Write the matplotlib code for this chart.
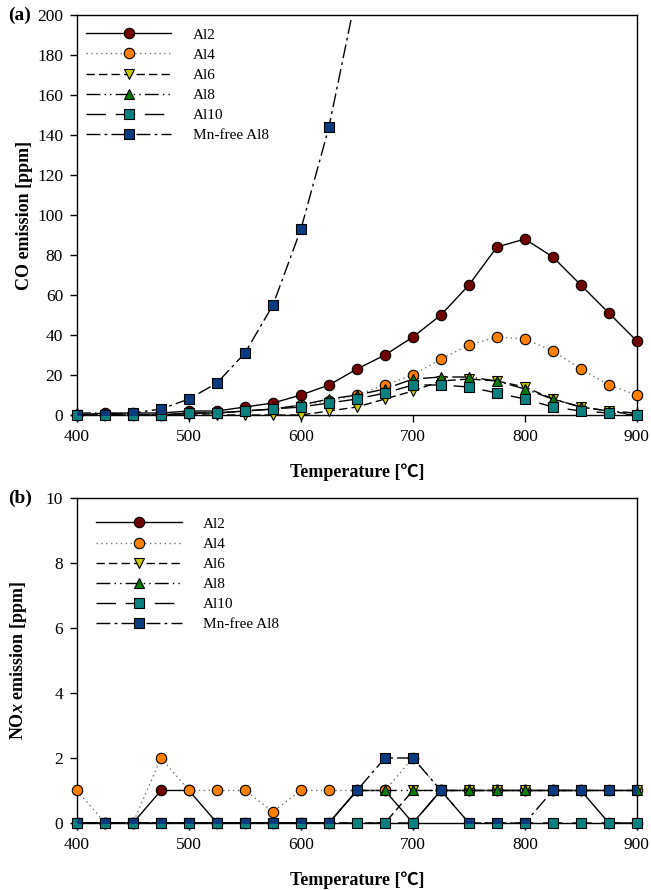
import matplotlib
matplotlib.use('Agg')
import matplotlib.pyplot as plt

plt.rcParams['font.family'] = ['Liberation Serif', 'Noto Sans CJK JP', 'DejaVu Sans']
plt.rcParams['mathtext.fontset'] = 'custom'
plt.rcParams['mathtext.rm'] = 'Liberation Serif'
plt.rcParams['mathtext.bf'] = 'Liberation Serif:bold'
plt.rcParams['mathtext.it'] = 'Liberation Serif:italic'
plt.rcParams['mathtext.bfit'] = 'Liberation Serif:italic:bold'

# temperatures (C)
temp = [400, 425, 450, 475, 500, 525, 550, 575, 600, 625, 650,
        675, 700, 725, 750, 775, 800, 825, 850, 875, 900]
temp_mnfree = temp[:11]

labels = ['Al2', 'Al4', 'Al6', 'Al8', 'Al10', 'Mn-free Al8']

# CO emission [ppm]
co_al2 = [0, 1, 1, 1, 2, 2, 4, 6, 10, 15, 23, 30, 39, 50, 65, 84, 88, 79, 65, 51, 37]
co_al4 = [0, 0, 0, 0, 1, 1, 2, 3, 5, 7, 10, 15, 20, 28, 35, 39, 38, 32, 23, 15, 10]
co_al6 = [0, 0, 0, 0, 0, 0, 0, 0, 0, 2, 4, 8, 12, 17, 18, 17, 14, 8, 4, 2, 0]
co_al8 = [1, 1, 0, 0, 1, 1, 2, 3, 5, 8, 10, 13, 18, 19, 19, 17, 13, 8, 4, 2, 1]
co_al10 = [0, 0, 0, 0, 1, 1, 2, 3, 4, 6, 8, 11, 15, 15, 14, 11, 8, 4, 2, 1, 0]
co_mnfree = [0, 0, 1, 3, 8, 16, 31, 55, 93, 144, 212]

# NOx emission [ppm]
nox_al2 = [0, 0, 0, 1, 1, 0, 0, 0, 0, 0, 1, 1, 0, 1, 1, 1, 1, 1, 1, 0, 0]
nox_al4 = [1, 0, 0, 2, 1, 1, 1, 0.35, 1, 1, 1, 1, 2, 1, 1, 1, 1, 1, 1, 1, 1]
nox_al6 = [0, 0, 0, 0, 0, 0, 0, 0, 0, 0, 0, 0, 1, 1, 1, 1, 1, 1, 1, 1, 1]
nox_al8 = [0, 0, 0, 0, 0, 0, 0, 0, 0, 0, 1, 1, 1, 1, 1, 1, 1, 1, 1, 1, 1]
nox_al10 = [0, 0, 0, 0, 0, 0, 0, 0, 0, 0, 0, 0, 0, 1, 0, 0, 0, 0, 0, 0, 0]
nox_mnfree = [0, 0, 0, 0, 0, 0, 0, 0, 0, 0, 1, 2, 2, 1, 0, 0, 0, 1, 1, 1, 1]

# marker / line style per series
colors = ['#6e0000', '#ff8000', '#c8c800', '#0a7a0a', '#0a8080', '#0a3a80']
markers = ['o', 'o', 'v', '^', 's', 's']
dashes = ['-', (0, (1, 2.5)), (0, (6, 3)), (0, (10, 3, 1, 3, 1, 3)),
          (0, (14, 7)), (0, (10, 3, 2, 3))]
line_colors = ['black', '0.45', 'black', 'black', 'black', 'black']

fig = plt.figure(figsize=(6.51, 8.9), dpi=100)
ax1 = fig.add_axes([0.1183, 0.5337, 0.860, 0.4494])
ax2 = fig.add_axes([0.1183, 0.0753, 0.860, 0.3652])


def draw(ax, xs_list, ys_list, anchor):
    for i, (xs, ys) in enumerate(zip(xs_list, ys_list)):
        ax.plot(xs, ys, linestyle=dashes[i], color=line_colors[i], lw=1.0,
                marker=markers[i], ms=7.5, mfc=colors[i], mec='black', mew=0.8,
                label=labels[i], clip_on=False if i != 5 else True, zorder=3 + i)
    ax.set_xlim(400, 900)
    ax.set_xticks(range(400, 901, 100))
    ax.tick_params(direction='out', length=5, width=1, labelsize=12.5, pad=5)
    for s in ax.spines.values():
        s.set_linewidth(1)
    ax.set_xlabel('Temperature [\u2103]', fontsize=13, fontweight='bold', labelpad=13)
    ax.legend(loc='upper left', frameon=False, fontsize=11, handlelength=5.6,
              handletextpad=1.4, labelspacing=0.42, borderaxespad=0.0,
              bbox_to_anchor=anchor)


draw(ax1, [temp, temp, temp, temp, temp, temp_mnfree],
     [co_al2, co_al4, co_al6, co_al8, co_al10, co_mnfree], (0.005, 0.983))
ax1.set_ylim(0, 200)
ax1.set_yticks(range(0, 201, 20))
ax1.set_ylabel('CO emission [ppm]', fontsize=13, fontweight='bold', labelpad=3)

draw(ax2, [temp] * 6, [nox_al2, nox_al4, nox_al6, nox_al8, nox_al10, nox_mnfree],
     (0.023, 0.96))
ax2.set_ylim(0, 10)
ax2.set_yticks(range(0, 11, 2))
ax2.set_ylabel(r'$\mathbf{NO}\mathbfit{x}$ emission [ppm]', fontsize=13,
               fontweight='bold', labelpad=12)

fig.text(0.012, 0.983, '(a)', fontsize=14, fontweight='bold', va='center')
fig.text(0.012, 0.4405, '(b)', fontsize=14, fontweight='bold', va='center')

fig.savefig('out.png', dpi=100)
